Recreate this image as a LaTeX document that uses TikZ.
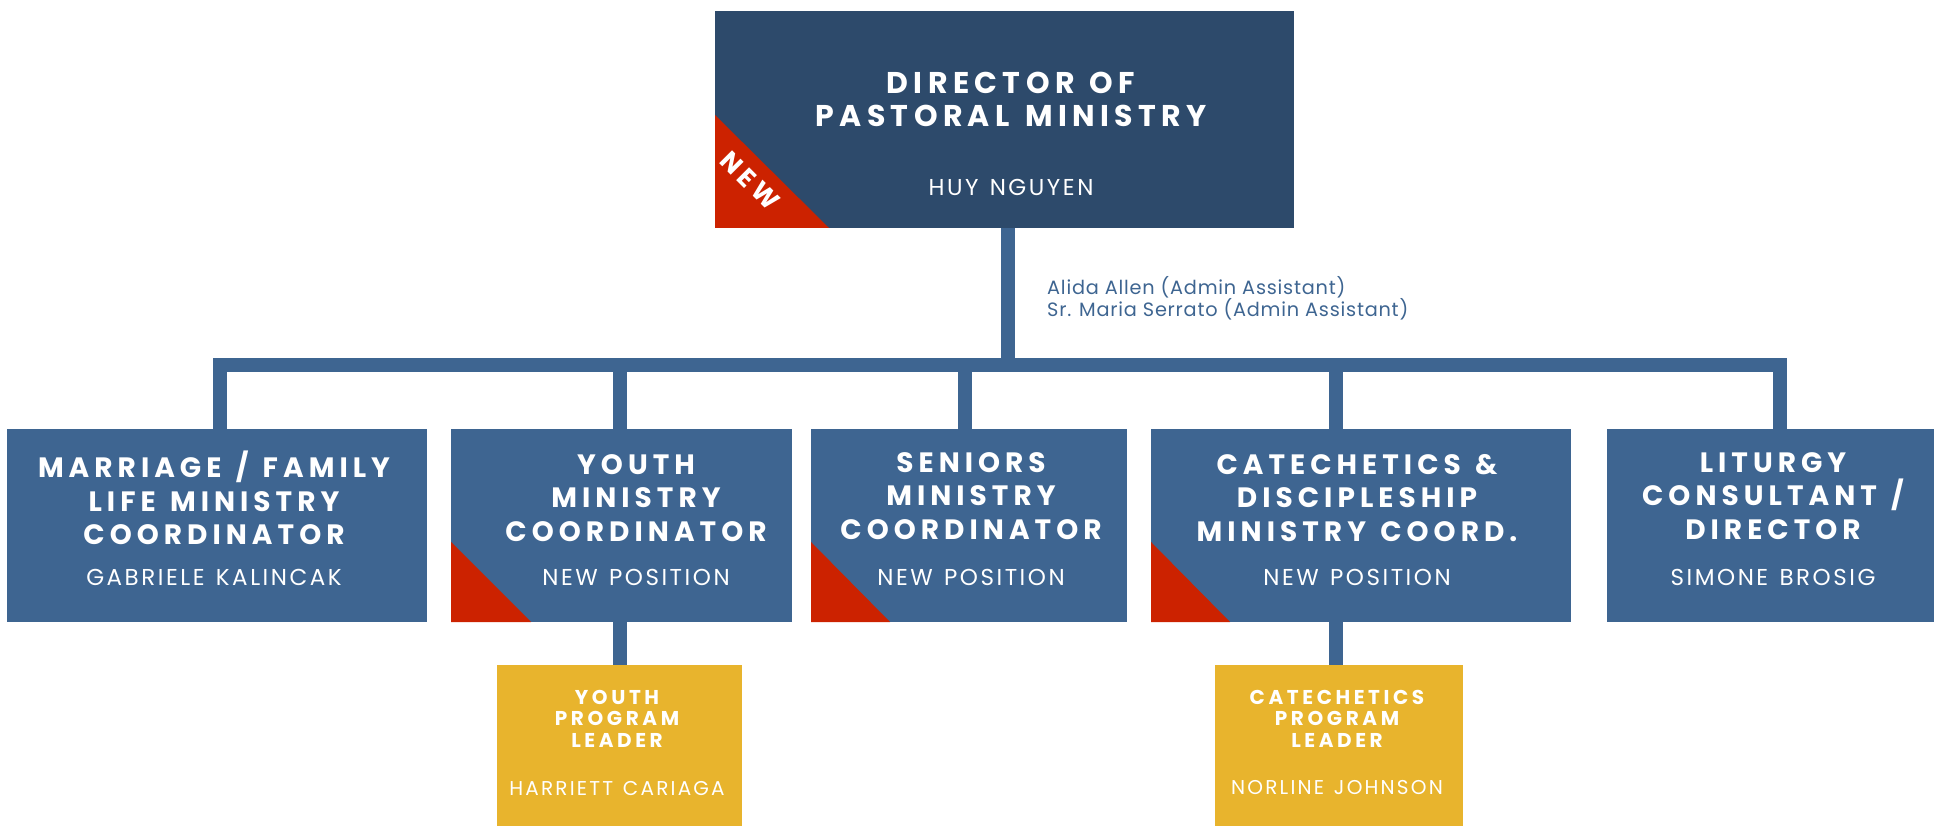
\documentclass[tikz,border=0pt]{standalone}
\usepackage{fontspec}
\setmainfont{Poppins}
\newfontfamily\bigheadfont[LetterSpace=18,WordSpace=1.8]{Poppins}
\newfontfamily\headfont[LetterSpace=18,WordSpace=1.3]{Poppins}
\newfontfamily\personfont[LetterSpace=11,WordSpace=1.3]{Poppins}
\newfontfamily\notefont[LetterSpace=4]{Poppins}
\usetikzlibrary{positioning}
\definecolor{navy}{HTML}{2D4A6B}
\definecolor{steel}{HTML}{3E6591}
\definecolor{newred}{HTML}{CC2200}
\definecolor{gold}{HTML}{E8B42D}

\begin{document}
\begin{tikzpicture}[x=1pt,y=-1pt,
    box/.style={rectangle,inner sep=0pt,outer sep=0pt,anchor=north west},
    link/.style={draw=steel,line width=14pt,line join=miter},
    bighead/.style={text=white,align=center,inner sep=0pt,
      font=\bigheadfont\bfseries\fontsize{30}{33}\selectfont},
    head/.style={text=white,align=center,inner sep=0pt,
      font=\headfont\bfseries\fontsize{28}{33.5}\selectfont},
    smallhead/.style={text=white,align=center,inner sep=0pt,
      font=\headfont\bfseries\fontsize{20}{21.5}\selectfont},
    person/.style={text=white,inner sep=0pt,
      font=\personfont\fontsize{23}{26}\selectfont},
    smallperson/.style={text=white,inner sep=0pt,
      font=\personfont\fontsize{20}{24}\selectfont},
    note/.style={text=steel,inner sep=0pt,anchor=base west,
      font=\notefont\fontsize{19.3}{22}\selectfont}]
  \useasboundingbox (0,0) rectangle (1934,826);

  % boxes
  \node[box,fill=navy,minimum width=579,minimum height=217] (top) at (715,11) {};
  \node[box,fill=steel,minimum width=420,minimum height=193] (b1) at (7,429) {};
  \node[box,fill=steel,minimum width=341,minimum height=193] (b2) at (451,429) {};
  \node[box,fill=steel,minimum width=316,minimum height=193] (b3) at (811,429) {};
  \node[box,fill=steel,minimum width=420,minimum height=193] (b4) at (1151,429) {};
  \node[box,fill=steel,minimum width=327,minimum height=193] (b5) at (1607,429) {};
  \node[box,fill=gold,minimum width=245,minimum height=161] (y1) at (497,665) {};
  \node[box,fill=gold,minimum width=248,minimum height=161] (y2) at (1215,665) {};

  % red corners
  \fill[newred] (top.south west) -- ++(0,-113) -- ++(114,113) -- cycle;
  \fill[newred] (b2.south west) -- ++(0,-80) -- ++(80,80) -- cycle;
  \fill[newred] (b3.south west) -- ++(0,-80) -- ++(79,80) -- cycle;
  \fill[newred] (b4.south west) -- ++(0,-80) -- ++(79,80) -- cycle;
  \node[rotate=-45,text=white,inner sep=0pt,
    font=\headfont\bfseries\fontsize{26}{28}\selectfont] (newtag) at (750,181) {NEW};

  % connectors
  \coordinate (hub) at (1008,365);
  \coordinate (j1) at (220,365);
  \coordinate (j2) at (620,365);
  \coordinate (j3) at (965,365);
  \coordinate (j4) at (1336,365);
  \coordinate (j5) at (1780,365);
  \draw[link] (hub |- top.south) -- (hub);
  \draw[link] (j1 |- b1.north) -- (j1) -- (j5) -- (j5 |- b5.north);
  \draw[link] (j2) -- (j2 |- b2.north);
  \draw[link] (j3) -- (j3 |- b3.north);
  \draw[link] (j4) -- (j4 |- b4.north);
  \draw[link] (j2 |- b2.south) -- (j2 |- y1.north);
  \draw[link] (j4 |- b4.south) -- (j4 |- y2.north);

  % texts
  \node[bighead] (toptitle) at (1011,99.5) {DIRECTOR OF\\PASTORAL MINISTRY};
  \node[person] (topname) at (1011,187) {HUY NGUYEN};
  \node[note] (admA) at (1047,294.5) {Alida Allen (Admin Assistant)};
  \node[note] (admB) at (1047,316.5) {Sr. Maria Serrato (Admin Assistant)};

  \node[head] (t1) at (214,498) {MARRIAGE / FAMILY\\LIFE MINISTRY\\COORDINATOR};
  \node[person] (p1) at (214,577) {GABRIELE KALINCAK};
  \node[head] (t2) at (636,498) {YOUTH\\MINISTRY\\COORDINATOR};
  \node[person] (p2) at (636,577) {NEW POSITION};
  \node[head] (t3) at (971,496) {SENIORS\\MINISTRY\\COORDINATOR};
  \node[person] (p3) at (971,577) {NEW POSITION};
  \node[head] (t4) at (1357,498) {CATECHETICS \&\\DISCIPLESHIP\\MINISTRY COORD.};
  \node[person] (p4) at (1357,577) {NEW POSITION};
  \node[head] (t5) at (1773,496) {LITURGY\\CONSULTANT /\\DIRECTOR};
  \node[person] (p5) at (1773,577) {SIMONE BROSIG};

  \node[smallhead] (t6) at (617,718.5) {YOUTH\\PROGRAM\\LEADER};
  \node[smallperson] (p6) at (617,788) {HARRIETT CARIAGA};
  \node[smallhead] (t7) at (1337,718.5) {CATECHETICS\\PROGRAM\\LEADER};
  \node[smallperson] (p7) at (1337,788) {NORLINE JOHNSON};
\end{tikzpicture}
\end{document}
